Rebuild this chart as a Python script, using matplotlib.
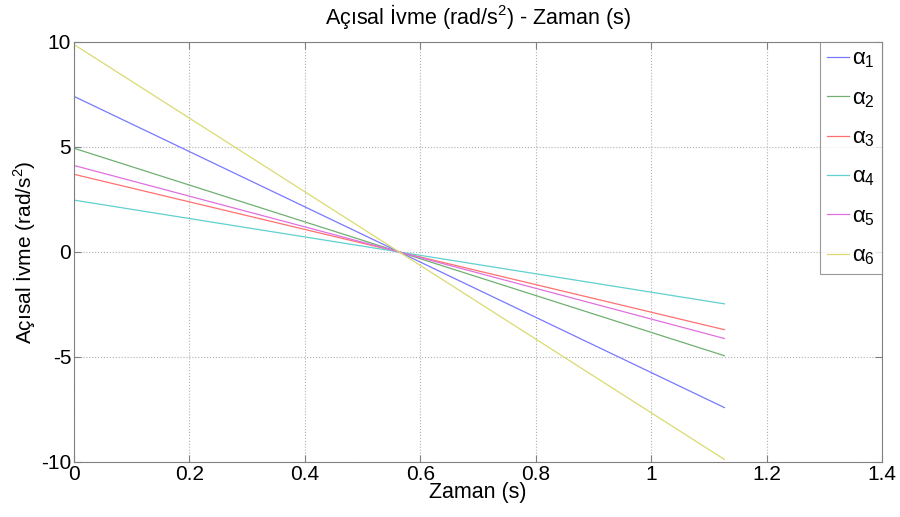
import numpy as np
import matplotlib
matplotlib.use("Agg")
import matplotlib.pyplot as plt

plt.rcParams['font.family'] = ['Liberation Sans', 'DejaVu Sans']
plt.rcParams['mathtext.fontset'] = 'custom'
plt.rcParams['mathtext.rm'] = 'Liberation Sans'
plt.rcParams['mathtext.it'] = 'Liberation Sans'
plt.rcParams['mathtext.bf'] = 'Liberation Sans:bold'
plt.rcParams['axes.unicode_minus'] = False

# zaman (s): baslangic ve bitis
zaman = [0.0, 1.127]

# acisal ivmeler (rad/s^2) baslangic / bitis
alfa1 = [7.41, -7.41]
alfa2 = [4.94, -4.94]
alfa3 = [3.70, -3.70]
alfa4 = [2.47, -2.47]
alfa5 = [4.12, -4.12]
alfa6 = [9.88, -9.88]

etiketler = [r'$\alpha_1$', r'$\alpha_2$', r'$\alpha_3$', r'$\alpha_4$', r'$\alpha_5$', r'$\alpha_6$']
renkler = ['#7878ff', '#70b070', '#ff7070', '#60d0d0', '#e070e0', '#dada70']

fig = plt.figure(figsize=(9, 5.17), dpi=100)
ax = fig.add_axes([0.0822, 0.1064, 0.8978, 0.8124])

for seri, etiket, renk in zip([alfa1, alfa2, alfa3, alfa4, alfa5, alfa6], etiketler, renkler):
    ax.plot(zaman, seri, color=renk, linewidth=0.9, label=etiket)

ax.set_xlim(0, 1.4)
ax.set_ylim(-10, 10)
ax.set_xticks(np.arange(0, 1.41, 0.2))
ax.set_xticklabels(['0', '0.2', '0.4', '0.6', '0.8', '1', '1.2', '1.4'])
ax.set_yticks([-10, -5, 0, 5, 10])

ax.grid(True, linestyle=':', color='#b0b0b0', linewidth=0.8)
ax.tick_params(direction='in', top=True, right=True, labelsize=15, length=5,
               color='#808080', pad=2)
for s in ax.spines.values():
    s.set_color('#808080')

ax.set_title(r'Açısal İvme (rad/s$^2$) - Zaman (s)', fontsize=15.5, pad=13)
ax.set_xlabel('Zaman (s)', fontsize=15.5, labelpad=-1)
ax.set_ylabel(r'Açısal İvme (rad/s$^2$)', fontsize=15, labelpad=3)

leg = ax.legend(loc='upper right', borderaxespad=0, fancybox=False, fontsize=16,
                handlelength=1.0, handletextpad=0.15, labelspacing=0.8,
                borderpad=0.3)
leg.get_frame().set_edgecolor('#808080')
leg.get_frame().set_linewidth(0.8)

fig.savefig('out.png', dpi=100)
